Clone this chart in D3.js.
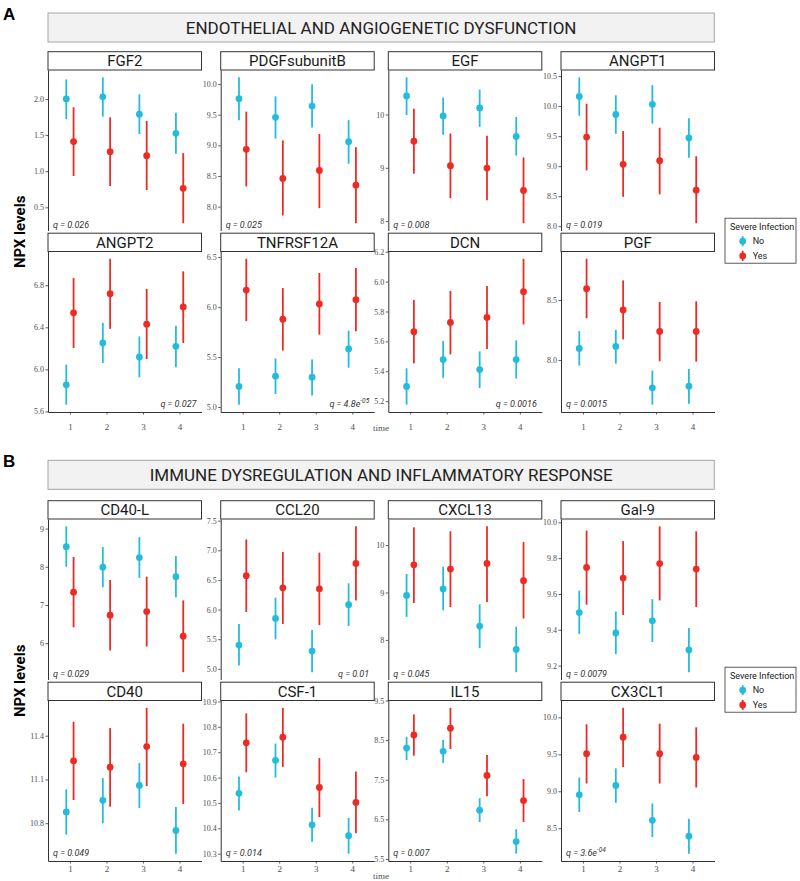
<!DOCTYPE html>
<html lang="en">
<head>
  <meta charset="UTF-8">
  <script src="https://d3js.org/d3.v7.min.js"></script>
  <style>
    body { margin: 0; background: #fff; }
    svg text { font-family: Roboto, "Noto Sans", sans-serif; }
    .tick text { font-family: "Liberation Serif", "DejaVu Serif", serif; }
  </style>
</head>
<body>
  <svg id="chart" width="800" height="881"></svg>
  <script>
    // ---- data ----
    const sectionLetters = ["A", "B"];
    const sectionTitles = ["ENDOTHELIAL AND ANGIOGENETIC DYSFUNCTION", "IMMUNE DYSREGULATION AND INFLAMMATORY RESPONSE"];
    const times = [1, 2, 3, 4];
    const groups = ["No", "Yes"];
    const panelNames = ["FGF2", "PDGFsubunitB", "EGF", "ANGPT1", "ANGPT2", "TNFRSF12A", "DCN", "PGF",
      "CD40-L", "CCL20", "CXCL13", "Gal-9", "CD40", "CSF-1", "IL15", "CX3CL1"];
    const qValues = ["0.026", "0.025", "0.008", "0.019", "0.027", "4.8e-05", "0.0016", "0.0015",
      "0.029", "0.01", "0.045", "0.0079", "0.049", "0.014", "0.007", "3.6e-04"];
    const qSide = ["left", "left", "left", "left", "right", "right", "right", "left",
      "left", "right", "left", "left", "left", "left", "left", "left"];
    const yTickLabels = [
      ["0.5", "1.0", "1.5", "2.0"], ["8.0", "8.5", "9.0", "9.5", "10.0"], ["8", "9", "10"], ["8.0", "8.5", "9.0", "9.5", "10.0", "10.5"],
      ["5.6", "6.0", "6.4", "6.8"], ["5.0", "5.5", "6.0", "6.5"], ["5.2", "5.4", "5.6", "5.8", "6.0", "6.2"], ["8.0", "8.5"],
      ["6", "7", "8", "9"], ["5.0", "5.5", "6.0", "6.5", "7.0", "7.5"], ["8", "9", "10"], ["9.2", "9.4", "9.6", "9.8", "10.0"],
      ["10.8", "11.1", "11.4"], ["10.3", "10.4", "10.5", "10.6", "10.7", "10.8", "10.9"], ["5.5", "6.5", "7.5", "8.5", "9.5"], ["8.5", "9.0", "9.5", "10.0"]
    ];

    // Severe infection = No (mean, lower, upper per time point)
    const noMean = [
      [2.00, 2.03, 1.79, 1.525], [9.76, 9.457, 9.64, 9.06], [10.35, 9.975, 10.125, 9.59], [10.16, 9.86, 10.03, 9.47],
      [5.853, 6.251, 6.118, 6.219], [5.205, 5.308, 5.298, 5.581], [5.298, 5.478, 5.411, 5.478], [8.096, 8.113, 7.768, 7.781],
      [8.524, 7.99, 8.24, 7.741], [5.40, 5.85, 5.30, 6.083], [8.938, 9.076, 8.292, 7.80], [9.496, 9.382, 9.45, 9.287],
      [10.877, 10.957, 11.059, 10.75], [10.538, 10.668, 10.414, 10.371], [8.30, 8.217, 6.733, 5.94], [8.952, 9.078, 8.607, 8.392]
    ];
    const noLow = [
      [1.72, 1.755, 1.515, 1.24], [9.41, 9.11, 9.29, 8.70], [9.99, 9.62, 9.77, 9.23], [9.84, 9.54, 9.71, 9.14],
      [5.664, 6.061, 5.925, 6.02], [5.023, 5.129, 5.116, 5.393], [5.176, 5.356, 5.287, 5.351], [7.953, 7.969, 7.627, 7.635],
      [8.0, 7.464, 7.707, 7.205], [5.055, 5.50, 4.943, 5.722], [8.486, 8.625, 7.826, 7.319], [9.377, 9.264, 9.331, 9.163],
      [10.722, 10.80, 10.904, 10.591], [10.47, 10.60, 10.347, 10.30], [8.0, 7.925, 6.433, 5.633], [8.719, 8.844, 8.379, 8.155]
    ];
    const noHigh = [
      [2.27, 2.30, 2.065, 1.81], [10.11, 9.80, 9.995, 9.41], [10.70, 10.32, 10.47, 9.955], [10.48, 10.18, 10.35, 9.80],
      [6.045, 6.443, 6.313, 6.415], [5.387, 5.486, 5.476, 5.764], [5.42, 5.603, 5.533, 5.607], [8.24, 8.251, 7.911, 7.925],
      [9.06, 8.516, 8.775, 8.284], [5.755, 6.20, 5.655, 6.443], [9.39, 9.542, 8.75, 8.278], [9.619, 9.502, 9.571, 9.41],
      [11.032, 11.109, 11.213, 10.911], [10.604, 10.734, 10.481, 10.441], [8.583, 8.508, 7.033, 6.25], [9.185, 9.31, 8.836, 8.629]
    ];
    // Severe infection = Yes
    const yesMean = [
      [1.41, 1.27, 1.215, 0.763], [8.935, 8.46, 8.59, 8.35], [9.50, 9.04, 8.995, 8.575], [9.485, 9.03, 9.09, 8.60],
      [6.538, 6.72, 6.43, 6.594], [6.17, 5.879, 6.031, 6.074], [5.665, 5.727, 5.76, 5.933], [8.594, 8.417, 8.237, 8.237],
      [7.335, 6.732, 6.828, 6.181], [6.572, 6.367, 6.35, 6.777], [9.583, 9.493, 9.611, 9.25], [9.748, 9.689, 9.77, 9.739],
      [11.227, 11.184, 11.325, 11.207], [10.737, 10.759, 10.561, 10.502], [8.633, 8.80, 7.608, 6.975], [9.508, 9.731, 9.508, 9.458]
    ];
    const yesLow = [
      [0.933, 0.795, 0.74, 0.28], [8.33, 7.855, 7.975, 7.73], [8.89, 8.43, 8.39, 7.96], [8.93, 8.49, 8.53, 8.05],
      [6.203, 6.386, 6.099, 6.251], [5.859, 5.565, 5.724, 5.757], [5.453, 5.513, 5.549, 5.713], [8.348, 8.171, 7.989, 7.986],
      [6.414, 5.809, 5.912, 5.24], [5.96, 5.755, 5.738, 6.155], [8.778, 8.694, 8.799, 8.451], [9.54, 9.483, 9.564, 9.527],
      [10.959, 10.913, 11.054, 10.932], [10.621, 10.642, 10.444, 10.381], [8.108, 8.275, 7.083, 6.433], [9.105, 9.328, 9.105, 9.051]
    ];
    const yesHigh = [
      [1.885, 1.745, 1.695, 1.25], [9.55, 9.08, 9.185, 8.97], [10.11, 9.645, 9.60, 9.195], [10.04, 9.585, 9.64, 9.165],
      [6.869, 7.052, 6.765, 6.933], [6.483, 6.19, 6.341, 6.391], [5.878, 5.938, 5.971, 6.153], [8.843, 8.663, 8.483, 8.489],
      [8.258, 7.655, 7.741, 7.12], [7.183, 6.972, 6.96, 7.405], [10.375, 10.29, 10.396, 10.063], [9.954, 9.895, 9.978, 9.95],
      [11.495, 11.452, 11.591, 11.482], [10.853, 10.875, 10.677, 10.624], [9.15, 9.317, 8.125, 7.516], [9.906, 10.13, 9.915, 9.866]
    ];

    // ---- layout ----
    const svg = d3.select("#chart");
    const colLeft = [48, 220.7, 388.3, 561];
    const panelW = 153.5;
    const stripH = 18.3;
    const panelH = 160.5;
    const rowGap = 2.7;
    const gridTop = [51.7, 500.7];
    const boxTop = [13, 460.3];
    const xLabelOffset = [17.5, 10.5];
    const timeLabelY = [430.5, 879];

    const color = d3.scaleOrdinal().domain(groups).range(["#25bcdc", "#ec2b24"]);
    const dodge = d3.scaleOrdinal().domain(groups).range([-0.1, 0.1]);

    // section headers, axis titles, legends
    sectionTitles.forEach((title, s) => {
      svg.append("text")
        .attr("x", 3).attr("y", boxTop[s] + 7)
        .attr("font-size", 17).attr("font-weight", "bold")
        .style("font-family", "'Liberation Sans', Arial, sans-serif")
        .text(sectionLetters[s]);

      svg.append("rect")
        .attr("x", 48).attr("y", boxTop[s])
        .attr("width", 714.3 - 48).attr("height", 29)
        .attr("fill", "#f2f2f2").attr("stroke", "#a6a6a6").attr("stroke-width", 1);

      svg.append("text")
        .attr("x", (48 + 714.3) / 2).attr("y", boxTop[s] + 20.5)
        .attr("text-anchor", "middle")
        .attr("font-size", 17).attr("fill", "#222")
        .text(title);

      const gridMid = gridTop[s] + (2 * (stripH + panelH) + rowGap) / 2;
      svg.append("text")
        .attr("transform", "translate(25," + gridMid + ") rotate(-90)")
        .attr("text-anchor", "middle")
        .attr("font-size", 15).attr("font-weight", "bold")
        .text("NPX levels");

      svg.append("text")
        .attr("x", 381).attr("y", timeLabelY[s])
        .attr("text-anchor", "middle")
        .attr("font-size", 9).attr("fill", "#4d4d4d")
        .style("font-family", "'Liberation Serif', serif")
        .text("time");

      // legend
      const lg = svg.append("g").attr("transform", "translate(725," + (gridTop[s] + 166.5) + ")");
      lg.append("rect").attr("width", 71).attr("height", 45)
        .attr("fill", "#fff").attr("stroke", "#333").attr("stroke-width", 0.8);
      lg.append("text").attr("x", 5).attr("y", 11.5).attr("font-size", 9).attr("fill", "#222")
        .text("Severe Infection");
      groups.forEach((g, k) => {
        const cy = 23 + k * 14.7;
        lg.append("line").attr("x1", 17.7).attr("x2", 17.7).attr("y1", cy - 5).attr("y2", cy + 5)
          .attr("stroke", color(g)).attr("stroke-width", 1.8);
        lg.append("circle").attr("cx", 17.7).attr("cy", cy).attr("r", 3.4).attr("fill", color(g));
        lg.append("text").attr("x", 27.7).attr("y", cy + 3.3).attr("font-size", 9).attr("fill", "#222").text(g);
      });
    });

    // panels
    panelNames.forEach((name, i) => {
      const s = Math.floor(i / 8);
      const r = Math.floor((i % 8) / 4);
      const c = i % 4;
      const left = colLeft[c];
      const stripTop = gridTop[s] + r * (stripH + panelH + rowGap);
      const top = stripTop + stripH;
      const bottom = top + panelH;

      const rows = [];
      times.forEach((t, j) => {
        rows.push({ time: t, group: "No", mean: noMean[i][j], lo: noLow[i][j], hi: noHigh[i][j] });
        rows.push({ time: t, group: "Yes", mean: yesMean[i][j], lo: yesLow[i][j], hi: yesHigh[i][j] });
      });

      const yMin = d3.min(rows, d => d.lo);
      const yMax = d3.max(rows, d => d.hi);
      const pad = (yMax - yMin) * 0.05;
      const y = d3.scaleLinear().domain([yMin - pad, yMax + pad]).range([bottom, top]);
      const x = d3.scaleLinear().domain([0.4, 4.6]).range([left, left + panelW]);

      const g = svg.append("g");

      // strip
      g.append("rect")
        .attr("x", left).attr("y", stripTop)
        .attr("width", panelW).attr("height", stripH)
        .attr("fill", "#fff").attr("stroke", "#333").attr("stroke-width", 1);
      g.append("text")
        .attr("x", left + panelW / 2).attr("y", stripTop + 14.5)
        .attr("text-anchor", "middle").attr("font-size", 15).attr("fill", "#1a1a1a")
        .text(name);

      // y axis
      const ticks = yTickLabels[i];
      const yAxis = g.append("g")
        .attr("transform", "translate(" + left + ",0)")
        .call(d3.axisLeft(y)
          .tickValues(ticks.map(Number))
          .tickFormat((d, k) => ticks[k])
          .tickSize(2.5).tickSizeOuter(0).tickPadding(1.5));
      yAxis.select(".domain").attr("stroke", "#333").attr("stroke-width", 1);
      yAxis.selectAll(".tick line").attr("stroke", "#333").attr("stroke-width", 0.8);
      yAxis.selectAll(".tick text").attr("font-size", 8).attr("fill", "#4d4d4d");

      // x axis on the bottom row only
      if (r === 1) {
        const xAxis = g.append("g")
          .attr("transform", "translate(0," + bottom + ")")
          .call(d3.axisBottom(x).tickValues(times).tickFormat(d3.format("d"))
            .tickSize(2.5).tickSizeOuter(0).tickPadding(1));
        xAxis.select(".domain").attr("stroke", "#333").attr("stroke-width", 1);
        xAxis.selectAll(".tick line").attr("stroke", "#333").attr("stroke-width", 0.8);
        xAxis.selectAll(".tick text").attr("font-size", 9).attr("fill", "#4d4d4d")
          .attr("dy", null).attr("y", xLabelOffset[s]);
      }

      // point ranges
      g.selectAll("line.range").data(rows).join("line")
        .attr("class", "range")
        .attr("x1", d => x(d.time + dodge(d.group)))
        .attr("x2", d => x(d.time + dodge(d.group)))
        .attr("y1", d => y(d.lo))
        .attr("y2", d => y(d.hi))
        .attr("stroke", d => color(d.group))
        .attr("stroke-width", 1.8);
      g.selectAll("circle.pt").data(rows).join("circle")
        .attr("class", "pt")
        .attr("cx", d => x(d.time + dodge(d.group)))
        .attr("cy", d => y(d.mean))
        .attr("r", 3.4)
        .attr("fill", d => color(d.group));

      // q value label
      const right = qSide[i] === "right";
      const q = g.append("text")
        .attr("x", right ? left + panelW - 5 : left + 5)
        .attr("y", bottom - (r === 0 ? 2.2 : 5))
        .attr("text-anchor", right ? "end" : "start")
        .attr("font-size", 9).attr("font-style", "italic").attr("fill", "#333");
      const parts = qValues[i].split("e");
      q.append("tspan").text("q = " + parts[0] + (parts.length > 1 ? "e" : ""));
      if (parts.length > 1) {
        q.append("tspan").attr("dy", -4).attr("font-size", 6.5).text(parts[1]);
      }
    });
  </script>
</body>
</html>
